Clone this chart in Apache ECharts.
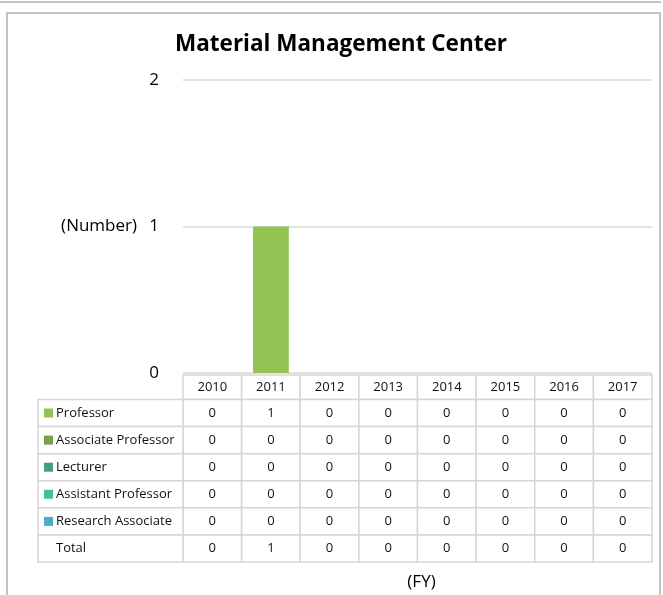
<!DOCTYPE html>
<html>
<head>
<meta charset="utf-8">
<script src="https://cdn.jsdelivr.net/npm/echarts@6/dist/echarts.min.js"></script>
<style>html,body{margin:0;padding:0;background:#fff;}#c{width:663px;height:595px;}</style>
</head>
<body>
<div id="c"></div>
<script>
// ---- data ----
const years = ['2010', '2011', '2012', '2013', '2014', '2015', '2016', '2017'];
const roles = ['Professor', 'Associate Professor', 'Lecturer', 'Assistant Professor', 'Research Associate'];
const professor          = [0, 1, 0, 0, 0, 0, 0, 0];
const associateProfessor = [0, 0, 0, 0, 0, 0, 0, 0];
const lecturer           = [0, 0, 0, 0, 0, 0, 0, 0];
const assistantProfessor = [0, 0, 0, 0, 0, 0, 0, 0];
const researchAssociate  = [0, 0, 0, 0, 0, 0, 0, 0];
const total              = [0, 1, 0, 0, 0, 0, 0, 0];
const yTicks = [0, 1, 2];
const titleText = 'Material Management Center';
const yName = '(Number)';
const xName = '(FY)';

// ---- style ----
const palette = ['#92C353', '#78A04A', '#45A077', '#41BFA0', '#4BACC6'];
const FONT = '"Open Sans", "Noto Sans", sans-serif';
const BORDER = '#d6d6d6';

const roleSeries = [professor, associateProfessor, lecturer, assistantProfessor, researchAssociate];
const rowNames = roles.concat(['Total']);
const rowValues = roleSeries.concat([total]);

const valueCells = [];
rowValues.forEach((arr, r) => arr.forEach((v, c) => valueCells.push([c, r, v])));
const headerCells = years.map((y, c) => [c, 0]);
const nameCells = rowNames.map((n, r) => [0, r]);

function cellBox(api) {
  const center = api.coord([api.value(0), api.value(1)]);
  const size = api.size([1, 1]);
  return { cx: center[0], cy: center[1], x: center[0] - size[0] / 2, y: center[1] - size[1] / 2, w: size[0], h: size[1] };
}
function rectEl(b) {
  return { type: 'rect', shape: { x: b.x, y: b.y, width: b.w, height: b.h },
    style: { fill: '#fff', stroke: BORDER, lineWidth: 1.5 } };
}
function centerText(b, text) {
  return { type: 'text', style: { text: String(text), x: b.cx, y: b.cy, textAlign: 'center', textVerticalAlign: 'middle',
    fontFamily: FONT, fontSize: 13, fill: '#111' } };
}

const chart = echarts.init(document.getElementById('c'));
const barSeries = roles.map((name, i) => ({
  name: name, type: 'bar', stack: 'all', xAxisIndex: 0, yAxisIndex: 0,
  barWidth: '61%', data: roleSeries[i], itemStyle: { color: palette[i] }, silent: true
}));

chart.setOption({
  animation: false,
  backgroundColor: '#fff',
  title: { text: titleText, left: 341, top: 33, padding: 0, textAlign: 'center',
    textStyle: { fontFamily: FONT, fontSize: 22.5, fontWeight: 'bold', color: '#000' } },
  graphic: [
    { type: 'line', shape: { x1: 0, y1: 2, x2: 661, y2: 2 }, style: { stroke: '#c4c4c4', lineWidth: 2 } },
    { type: 'rect', shape: { x: 7, y: 13, width: 653, height: 620 }, style: { fill: 'none', stroke: '#c4c4c4', lineWidth: 2 } }
  ],
  grid: [
    { left: 183, top: 80, width: 469, height: 293 },
    { left: 183, top: 375, width: 469, height: 24.5 },
    { left: 183, top: 399.5, width: 469, height: 162.5 },
    { left: 38, top: 399.5, width: 145, height: 162.5 }
  ],
  xAxis: [
    { gridIndex: 0, type: 'category', data: years, show: false },
    { gridIndex: 1, type: 'category', data: years, show: false },
    { gridIndex: 2, type: 'category', data: years, axisLine: { show: false }, axisTick: { show: false }, axisLabel: { show: false },
      name: xName, nameLocation: 'middle', nameGap: 12,
      nameTextStyle: { fontFamily: FONT, fontSize: 17, color: '#000', padding: [0, 0, 0, 8] } },
    { gridIndex: 3, type: 'category', data: ['name'], show: false }
  ],
  yAxis: [
    { gridIndex: 0, type: 'value', min: yTicks[0], max: yTicks[yTicks.length - 1], interval: 1,
      axisLine: { show: false }, axisTick: { show: false },
      axisLabel: { fontFamily: FONT, fontSize: 17, color: '#000', margin: 24 },
      splitLine: { lineStyle: { color: '#d9d9d9', width: 1.5 } },
      name: yName, nameLocation: 'middle', nameRotate: 0, nameGap: 46,
      nameTextStyle: { fontFamily: FONT, fontSize: 17, color: '#000' } },
    { gridIndex: 1, type: 'category', data: ['FY'], show: false },
    { gridIndex: 2, type: 'category', data: rowNames, inverse: true, show: false },
    { gridIndex: 3, type: 'category', data: rowNames, inverse: true, show: false }
  ],
  series: barSeries.concat([
    { type: 'custom', xAxisIndex: 1, yAxisIndex: 1, data: headerCells, encode: { x: 0, y: 1 }, silent: true,
      renderItem: function (params, api) {
        const b = cellBox(api);
        return { type: 'group', children: [rectEl(b), centerText(b, years[params.dataIndex])] };
      } },
    { type: 'custom', xAxisIndex: 2, yAxisIndex: 2, data: valueCells, encode: { x: 0, y: 1 }, silent: true,
      renderItem: function (params, api) {
        const b = cellBox(api);
        return { type: 'group', children: [rectEl(b), centerText(b, valueCells[params.dataIndex][2])] };
      } },
    { type: 'custom', xAxisIndex: 3, yAxisIndex: 3, data: nameCells, encode: { x: 0, y: 1 }, silent: true,
      renderItem: function (params, api) {
        const b = cellBox(api);
        const r = params.dataIndex;
        const children = [rectEl(b)];
        if (r < roles.length) {
          children.push({ type: 'rect', shape: { x: b.x + 6, y: b.cy - 4.5, width: 9, height: 9 }, style: { fill: palette[r] } });
        }
        children.push({ type: 'text', style: { text: rowNames[r], x: b.x + 18, y: b.cy, textAlign: 'left', textVerticalAlign: 'middle',
          fontFamily: FONT, fontSize: 13, fill: '#111' } });
        return { type: 'group', children: children };
      } }
  ])
});
</script>
</body>
</html>
